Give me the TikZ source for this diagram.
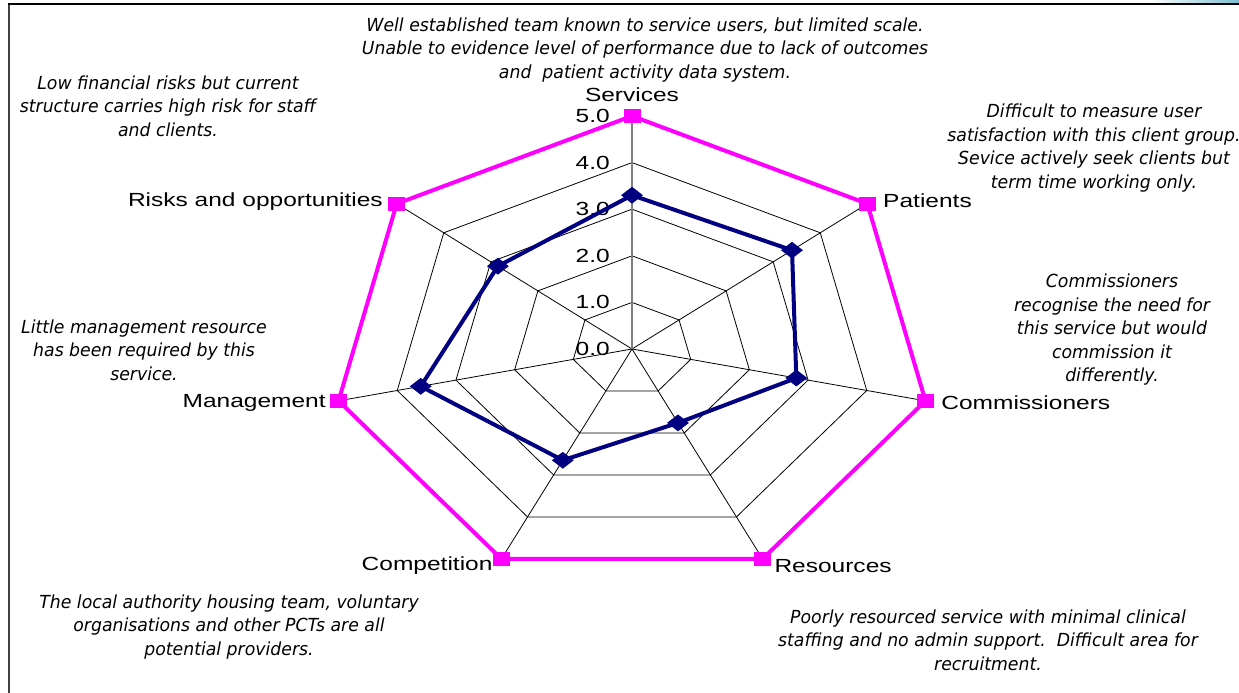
\documentclass[tikz,border=0pt]{standalone}
\usepackage{fontspec}
\usepackage{tikz}
\usetikzlibrary{positioning, shapes.geometric}
\definecolor{chartpink}{HTML}{FF00FF}
\definecolor{chartnavy}{HTML}{000080}
\definecolor{framegrey}{HTML}{404040}
\definecolor{slideblue}{HTML}{7DBFD2}
\newfontfamily\axisfont[FakeStretch=1.29]{Liberation Sans}
\newfontfamily\notefont[FakeStretch=0.96]{DejaVu Sans}
\tikzstyle{pblock} = [rectangle, fill=chartpink, 
minimum width=17pt, minimum height=14pt, inner sep=0pt]
\tikzstyle{nblock} = [diamond, fill=chartnavy, 
minimum width=22pt, minimum height=17pt, inner sep=0pt]
\tikzstyle{axblock} = [inner sep=0pt, font=\axisfont\fontsize{19}{22}\selectfont]
\tikzstyle{noteblock} = [align=center, inner sep=0pt, 
font=\notefont\itshape\fontsize{18}{23.5}\selectfont]
\tikzstyle{webline} = [black, line width=0.8pt]
\tikzstyle{valueaxis} = [gray, line width=1.6pt]
\tikzstyle{pline} = [chartpink, line width=4pt]
\tikzstyle{nline} = [chartnavy, line width=4pt]

\begin{document}
\begin{tikzpicture}[x=1pt, y=-1pt]
                \useasboundingbox (0,0) rectangle (1239,693);
                \shade[left color=white, right color=slideblue] (1150,0) rectangle (1239,4);
                \draw [framegrey, line width=2pt] (9,693) -- (9,4);
                \draw [black, line width=2pt] (8,4) -- (1239,4);
                \begin{scope}[shift={(632,349)}, x=60.2pt, y=46.6pt]
                \draw [webline] (90:1) -- (38.571:1) -- (-12.857:1) -- (-64.286:1) -- (-115.714:1) -- (-167.143:1) -- (141.429:1) -- cycle;
                \draw [webline] (90:2) -- (38.571:2) -- (-12.857:2) -- (-64.286:2) -- (-115.714:2) -- (-167.143:2) -- (141.429:2) -- cycle;
                \draw [webline] (90:3) -- (38.571:3) -- (-12.857:3) -- (-64.286:3) -- (-115.714:3) -- (-167.143:3) -- (141.429:3) -- cycle;
                \draw [webline] (90:4) -- (38.571:4) -- (-12.857:4) -- (-64.286:4) -- (-115.714:4) -- (-167.143:4) -- (141.429:4) -- cycle;
                \draw [webline] (0,0) -- (38.571:5);
                \draw [webline] (0,0) -- (-12.857:5);
                \draw [webline] (0,0) -- (-64.286:5);
                \draw [webline] (0,0) -- (-115.714:5);
                \draw [webline] (0,0) -- (-167.143:5);
                \draw [webline] (0,0) -- (141.429:5);
                \draw [valueaxis] (0,0) -- (90:5);
                \node (29) [axblock, left=22pt] at (0,0) {0.0};
                \node (30) [axblock, left=22pt] at (0,1) {1.0};
                \node (31) [axblock, left=22pt] at (0,2) {2.0};
                \node (32) [axblock, left=22pt] at (0,3) {3.0};
                \node (33) [axblock, left=22pt] at (0,4) {4.0};
                \node (34) [axblock, left=22pt] at (0,5) {5.0};
                \coordinate (p1) at (90:5);
                \coordinate (p2) at (38.571:5);
                \coordinate (p3) at (-12.857:5);
                \coordinate (p4) at (-64.286:5);
                \coordinate (p5) at (-115.714:5);
                \coordinate (p6) at (-167.143:5);
                \coordinate (p7) at (141.429:5);
                \coordinate (n1) at (90:3.3);
                \coordinate (n2) at (38.571:3.4);
                \coordinate (n3) at (-12.857:2.8);
                \coordinate (n4) at (-64.286:1.76);
                \coordinate (n5) at (-115.714:2.65);
                \coordinate (n6) at (-167.143:3.6);
                \coordinate (n7) at (141.429:2.85);
                \draw [pline] (p1) -- (p2) -- (p3) -- (p4) -- (p5) -- (p6) -- (p7) -- cycle;
                \node (1) [pblock] at (p1) {};
                \node (2) [pblock] at (p2) {};
                \node (3) [pblock] at (p3) {};
                \node (4) [pblock] at (p4) {};
                \node (5) [pblock] at (p5) {};
                \node (6) [pblock] at (p6) {};
                \node (7) [pblock] at (p7) {};
                \draw [nline] (n1) -- (n2) -- (n3) -- (n4) -- (n5) -- (n6) -- (n7) -- cycle;
                \node (8) [nblock] at (n1) {};
                \node (9) [nblock] at (n2) {};
                \node (10) [nblock] at (n3) {};
                \node (11) [nblock] at (n4) {};
                \node (12) [nblock] at (n5) {};
                \node (13) [nblock] at (n6) {};
                \node (14) [nblock] at (n7) {};
                \end{scope}
                \node (15) [axblock, above=7pt of 1] {Services};
                \node (16) [axblock, right=7pt of 2, yshift=3pt] {Patients};
                \node (17) [axblock, right=7pt of 3, yshift=-2pt] {Commissioners};
                \node (18) [axblock, right=3pt of 4, yshift=-7pt] {Resources};
                \node (19) [axblock, left=0pt of 5, yshift=-7pt] {Competition};
                \node (20) [axblock, left=4pt of 6, yshift=-2pt] {Management};
                \node (21) [axblock, left=5pt of 7, yshift=2pt] {Risks and opportunities};
                \node (22) [noteblock] at (645,50) {Well established team known to service users, but limited scale.\\Unable to evidence level of performance due to lack of outcomes\\and\ \ patient activity data system.};
                \node (23) [noteblock] at (168,106) {Low financial risks but current\\structure carries high risk for staff\\and clients.};
                \node (24) [noteblock] at (1094,148) {Difficult to measure user\\satisfaction with this client group.\\Sevice actively seek clients but\\term time working only.};
                \node (25) [noteblock] at (1112,330) {Commissioners\\recognise the need for\\this service but would\\commission it\\differently.};
                \node (26) [noteblock] at (144,350) {Little management resource\\has been required by this\\service.};
                \node (27) [noteblock] at (229,627) {The local authority housing team, voluntary\\organisations and other PCTs are all\\potential providers.};
                \node (28) [noteblock] at (988,640) {Poorly resourced service with minimal clinical\\staffing and no admin support.\ \ Difficult area for\\recruitment.};
        \end{tikzpicture}
\end{document}
